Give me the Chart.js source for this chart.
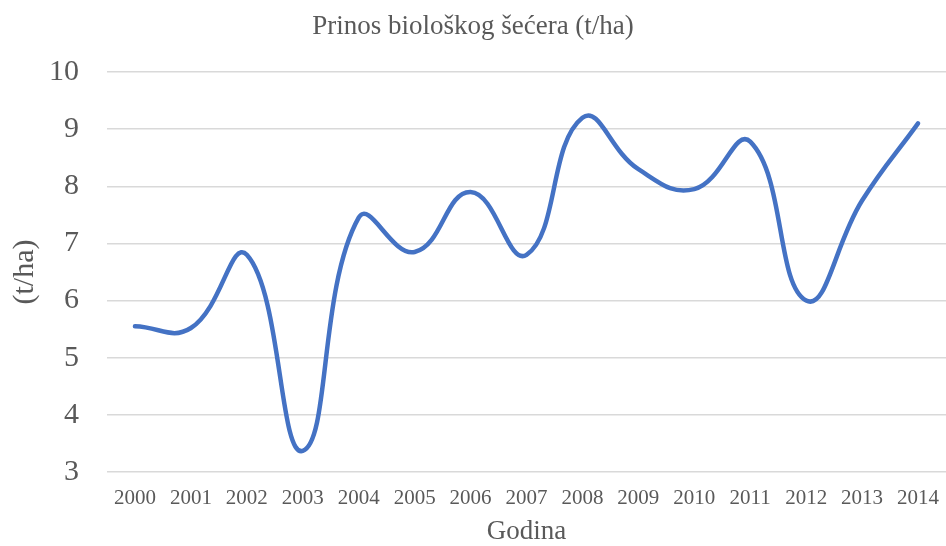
<!DOCTYPE html>
<html>
<head>
<meta charset="utf-8">
<script src="https://cdn.jsdelivr.net/npm/chart.js@4.4.0/dist/chart.umd.min.js"></script>
<style>
  html, body { margin: 0; padding: 0; background: #fff; }
  #wrap { width: 946px; height: 546px; position: relative; }
</style>
</head>
<body>
<div id="wrap"><canvas id="c" width="946" height="546"></canvas></div>
<script>
const categories = ['2000','2001','2002','2003','2004','2005','2006','2007','2008','2009','2010','2011','2012','2013','2014'];
const yieldValues = [5.55, 5.52, 6.8, 3.37, 7.45, 6.85, 7.9, 6.8, 9.2, 8.3, 7.95, 8.78, 6.0, 7.75, 9.1];
const yTicks = [3, 4, 5, 6, 7, 8, 9, 10];
const chartTitle = 'Prinos biološkog šećera (t/ha)';
const xTitle = 'Godina';
const yTitle = '(t/ha)';

const serif = '"Liberation Serif", "Times New Roman", serif';
const grey = '#595959';

new Chart(document.getElementById('c'), {
  type: 'line',
  data: {
    labels: categories,
    datasets: [{
      data: yieldValues,
      borderColor: '#4472C4',
      borderWidth: 4.5,
      pointRadius: 0,
      tension: 0.45,
      fill: false,
      borderCapStyle: 'round',
      borderJoinStyle: 'round'
    }]
  },
  options: {
    responsive: false,
    animation: false,
    devicePixelRatio: 1,
    layout: { padding: { left: 0, right: 0, top: 0, bottom: 0 } },
    plugins: {
      legend: { display: false },
      tooltip: { enabled: false },
      title: {
        display: true,
        text: chartTitle,
        color: grey,
        font: { family: serif, size: 27, weight: 'normal' },
        padding: { top: 11, bottom: 28.6 }
      }
    },
    scales: {
      x: {
        offset: true,
        grid: { display: false, drawTicks: false },
        border: { display: false },
        ticks: {
          color: grey,
          font: { family: serif, size: 21 },
          padding: 14,
          maxRotation: 0,
          autoSkip: false
        },
        title: {
          display: true,
          text: xTitle,
          color: grey,
          font: { family: serif, size: 27 },
          padding: { top: 0, bottom: -2 }
        },
        afterFit: (s) => { s.height = 74; s.paddingLeft = 0; s.paddingRight = 0; }
      },
      y: {
        min: 3,
        max: 10,
        afterBuildTicks: (s) => { s.ticks = yTicks.map(v => ({ value: v })); },
        grid: { color: '#d9d9d9', lineWidth: 1.5, drawTicks: false },
        border: { display: false },
        ticks: {
          color: grey,
          font: { family: serif, size: 30 },
          padding: 28
        },
        title: {
          display: true,
          text: yTitle,
          color: grey,
          font: { family: serif, size: 30 },
          padding: { top: 7, bottom: 0 }
        },
        afterFit: (s) => { s.width = 107; }
      }
    }
  }
});
</script>
</body>
</html>
